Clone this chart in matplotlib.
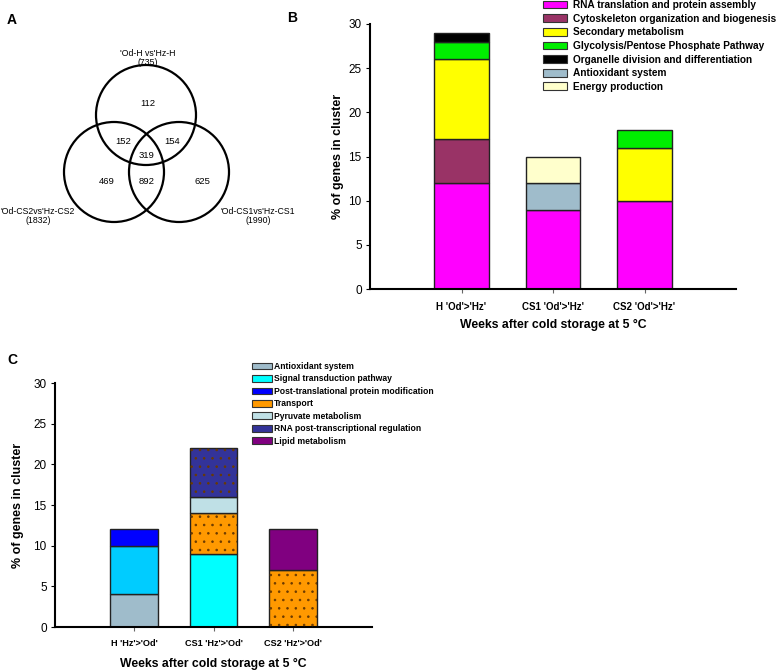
import matplotlib
matplotlib.use("Agg")
import matplotlib.pyplot as plt
import numpy as np
from matplotlib.patches import Circle, Patch

plt.rcParams["font.family"] = ["Liberation Sans", "DejaVu Sans"]
plt.rcParams["hatch.linewidth"] = 0.6

# ---- panel A: Venn counts ----
venn_sets = ["'Od-H vs'Hz-H", "'Od-CS2vs'Hz-CS2", "'Od-CS1vs'Hz-CS1"]
venn_totals = [735, 1832, 1990]
venn_regions = ["112", "152", "154", "319", "469", "892", "625"]

# ---- panel B ----
b_groups = ["H 'Od'>'Hz'", "CS1 'Od'>'Hz'", "CS2 'Od'>'Hz'"]
b_cats = ["RNA translation and protein assembly",
          "Cytoskeleton organization and biogenesis",
          "Secondary metabolism",
          "Glycolysis/Pentose Phosphate Pathway",
          "Organelle division and differentiation",
          "Antioxidant system",
          "Energy production"]
b_colors = ["#ff00ff", "#993366", "#ffff00", "#00ee00", "#000000", "#9fbccb", "#ffffcc"]
# stacks bottom->top: (category index, value)
b_stacks = [
    [(0, 12), (1, 5), (2, 9), (3, 2), (4, 1)],
    [(0, 9), (5, 3), (6, 3)],
    [(0, 10), (2, 6), (3, 2)],
]

# ---- panel C ----
c_groups = ["H 'Hz'>'Od'", "CS1 'Hz'>'Od'", "CS2 'Hz'>'Od'"]
c_cats = ["Antioxidant system",
          "Signal transduction pathway",
          "Post-translational protein modification",
          "Transport",
          "Pyruvate metabolism",
          "RNA post-transcriptional regulation",
          "Lipid metabolism"]
c_colors = ["#9fbccb", "#00ffff", "#0000ff", "#ff9900", "#bfe0e6", "#333399", "#800080"]
c_dotted = {3, 5}
c_stacks = [
    [(0, 4), (1, 6), (2, 2)],
    [(1, 9), (3, 5), (4, 2), (5, 6)],
    [(3, 7), (6, 5)],
]
c_override = {(0, 1): "#00ccff"}  # H signal segment is drawn in a deeper blue

W, H = 778, 671
fig = plt.figure(figsize=(W / 100, H / 100), dpi=100)


def fx(px):
    return px / W


def fy(py):
    return 1 - py / H


# ---- Venn (pixel layout) ----
ax_a = fig.add_axes([0, 0, 1, 1])
ax_a.set_xlim(0, W)
ax_a.set_ylim(H, 0)
ax_a.axis("off")
r = 50
centers = [(146, 115), (114, 172), (179, 172)]
for c in centers:
    ax_a.add_patch(Circle(c, r, fill=False, lw=1.6, ec="black"))
region_pos = [(148, 103), (123, 142), (172, 142), (147, 155), (107, 181), (147, 181), (202, 181)]
for txt, (x, y) in zip(venn_regions, region_pos):
    ax_a.text(x, y, txt, ha="center", va="center", fontsize=6.8)
label_pos = [(148, 58, "center"), (38, 216, "center"), (258, 216, "center")]
for name, tot, (x, y, ha) in zip(venn_sets, venn_totals, label_pos):
    ax_a.text(x, y, f"{name}\n({tot})", ha=ha, va="center", fontsize=6.3,
              linespacing=1.0)

fig.text(fx(12), fy(20), "A", fontsize=10, fontweight="bold", ha="center", va="center")
fig.text(fx(292), fy(18), "B", fontsize=10, fontweight="bold", ha="center", va="center")
fig.text(fx(12), fy(360), "C", fontsize=10, fontweight="bold", ha="center", va="center")


def style_axis(ax, tick_fs):
    for s in ("top", "right"):
        ax.spines[s].set_visible(False)
    ax.spines["left"].set_linewidth(1.5)
    ax.spines["bottom"].set_linewidth(1.5)
    ax.set_xlim(-1, 3)
    ax.set_ylim(0, 30)
    ax.set_yticks(np.arange(0, 31, 5))
    ax.tick_params(axis="y", length=3, width=0.8, labelsize=8.5, pad=3)
    ax.tick_params(axis="x", length=3, width=0.8, color="#666666", labelsize=tick_fs, pad=6)
    for t in ax.get_xticklabels():
        t.set_fontweight("bold")


def set_labels(ax, xlab_y, ylab_x):
    ax.set_xlabel("Weeks after cold storage at 5 °C", fontsize=8.8, fontweight="bold")
    ax.set_ylabel("% of genes in cluster", fontsize=9, fontweight="bold")
    ax.xaxis.label.set_verticalalignment("center")
    ax.yaxis.label.set_verticalalignment("center")
    ax.xaxis.set_label_coords(0.5, xlab_y)
    ax.yaxis.set_label_coords(ylab_x, 0.5)


def draw_stacks(ax, stacks, colors, width, dotted=(), override=None):
    override = override or {}
    for gi, stack in enumerate(stacks):
        bottom = 0
        for ci, val in stack:
            col = override.get((gi, ci), colors[ci])
            ax.bar(gi, val, width, bottom=bottom, color=col, edgecolor="#222222", lw=1.0, zorder=2)
            if ci in dotted:
                ax.bar(gi, val, width, bottom=bottom, fill=False, hatch="..", edgecolor="#6a3a00",
                       lw=0, zorder=3)
            bottom += val


# ---- panel B ----
ax_b = fig.add_axes([fx(370), fy(289), fx(736) - fx(370), fy(24) - fy(289)])
draw_stacks(ax_b, b_stacks, b_colors, 0.6)
ax_b.set_xticks(range(len(b_groups)))
ax_b.set_xticklabels(b_groups)
style_axis(ax_b, 7.0)
set_labels(ax_b, -0.136, -0.087)
hb = [Patch(facecolor=c, edgecolor="#333333", lw=0.8) for c in b_colors]
ax_b.legend(hb, b_cats, loc="upper left", bbox_to_anchor=(fx(543), fy(0)),
            bbox_transform=fig.transFigure, frameon=False,
            prop={"weight": "bold", "size": 7.3}, handlelength=2.4, handleheight=0.8,
            handletextpad=0.6, labelspacing=0.36, borderpad=0, borderaxespad=0)

# ---- panel C ----
ax_c = fig.add_axes([fx(55), fy(627), fx(372) - fx(55), fy(383) - fy(627)])
draw_stacks(ax_c, c_stacks, c_colors, 0.6, dotted=c_dotted, override=c_override)
ax_c.set_xticks(range(len(c_groups)))
ax_c.set_xticklabels(c_groups)
style_axis(ax_c, 6.6)
set_labels(ax_c, -0.152, -0.117)
hc = [Patch(facecolor=c, edgecolor="#333333", lw=0.8) for c in c_colors]
ax_c.legend(hc, c_cats, loc="upper left", bbox_to_anchor=(fx(252), fy(362)),
            bbox_transform=fig.transFigure, frameon=False,
            prop={"weight": "bold", "size": 6.2}, handlelength=2.3, handleheight=0.8,
            handletextpad=0.25, labelspacing=0.4, borderpad=0, borderaxespad=0)

fig.savefig("out.png", dpi=100)
